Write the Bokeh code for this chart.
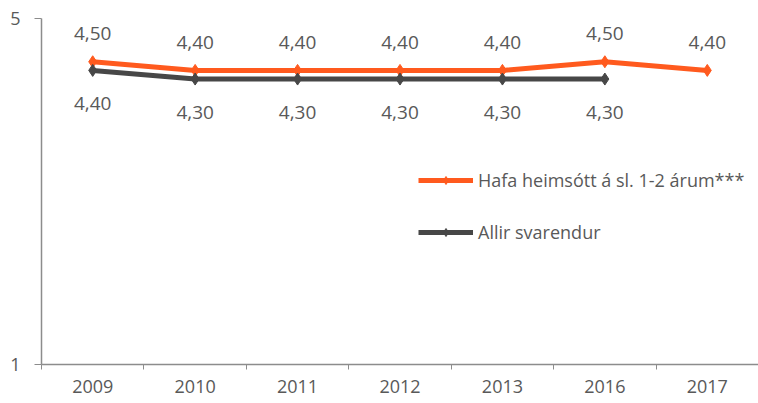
from bokeh.plotting import figure
from bokeh.models import (ColumnDataSource, FixedTicker, Range1d, Legend, LegendItem)
from bokeh.core.properties import value
from bokeh.embed import file_html
from bokeh.resources import INLINE

years = ["2009", "2010", "2011", "2012", "2013", "2016", "2017"]
visited = [4.50, 4.40, 4.40, 4.40, 4.40, 4.50, 4.40]
all_resp = [4.40, 4.30, 4.30, 4.30, 4.30, 4.30]
series_names = ["Hafa heimsótt á sl. 1-2 árum***", "Allir svarendur"]
y_ticks = [1, 5]

ORANGE = "#FF5A1E"
GREY = "#474747"
TXT = "#595959"
AXIS = "#8C8C8C"
FONT = "Open Sans"

xc = [i + 0.5 for i in range(len(years))]

def fmt(v):
    return f"{v:.2f}".replace(".", ",")

src_o = ColumnDataSource(dict(x=xc, y=visited, lab=[fmt(v) for v in visited]))
src_g = ColumnDataSource(dict(x=xc[:len(all_resp)], y=all_resp, lab=[fmt(v) for v in all_resp]))

p = figure(width=758, height=403, output_backend="svg", toolbar_location=None,
           x_range=Range1d(0, len(years)), y_range=Range1d(1, 5),
           min_border_left=41, min_border_right=0, min_border_top=18, min_border_bottom=39)
p.outline_line_color = None
p.xgrid.visible = False
p.ygrid.visible = False
p.background_fill_color = "white"
p.border_fill_color = "white"

lo = p.line("x", "y", source=src_o, line_color=ORANGE, line_width=5)
mo = p.scatter("x", "y", source=src_o, marker="diamond", size=12,
               fill_color=ORANGE, line_color=ORANGE)
lg = p.line("x", "y", source=src_g, line_color=GREY, line_width=5)
mg = p.scatter("x", "y", source=src_g, marker="diamond", size=12,
               fill_color=GREY, line_color=GREY)

p.text("x", "y", text="lab", source=src_o, y_offset=-28, text_align="center",
       text_baseline="middle", text_color=TXT, text_font=value(FONT), text_font_size="19px")
p.text("x", "y", text="lab", source=src_g, y_offset=33, text_align="center",
       text_baseline="middle", text_color=TXT, text_font=value(FONT), text_font_size="19px")

# x axis
xa = p.xaxis[0]
xa.ticker = FixedTicker(ticks=xc, minor_ticks=list(range(len(years) + 1)))
xa.major_label_overrides = {x: y for x, y in zip(xc, years)}
xa.major_tick_out = 0
xa.major_tick_in = 0
xa.minor_tick_out = 5
xa.minor_tick_in = 0
xa.minor_tick_line_color = AXIS
xa.axis_line_color = AXIS
xa.axis_line_width = 1.5
xa.major_label_standoff = 10
xa.major_label_text_font = FONT
xa.major_label_text_font_size = "18px"
xa.major_label_text_color = TXT

ya = p.yaxis[0]
ya.ticker = FixedTicker(ticks=y_ticks, minor_ticks=[])
ya.major_tick_out = 7
ya.major_tick_in = 0
ya.major_tick_line_color = AXIS
ya.axis_line_color = AXIS
ya.axis_line_width = 1.5
ya.major_label_standoff = 14
ya.major_label_text_font = FONT
ya.major_label_text_font_size = "18px"
ya.major_label_text_color = TXT

legend = Legend(items=[LegendItem(label=series_names[0], renderers=[lo, mo]),
                       LegendItem(label=series_names[1], renderers=[lg, mg])],
                location=(377, 120), orientation="vertical",
                glyph_width=55, glyph_height=20, label_height=20, spacing=28,
                label_standoff=5, padding=0, margin=0,
                border_line_color=None, background_fill_alpha=0,
                label_text_font=FONT, label_text_font_size="18px", label_text_color=TXT)
p.add_layout(legend, "center")

open("out.html", "w").write(file_html(p, INLINE))
